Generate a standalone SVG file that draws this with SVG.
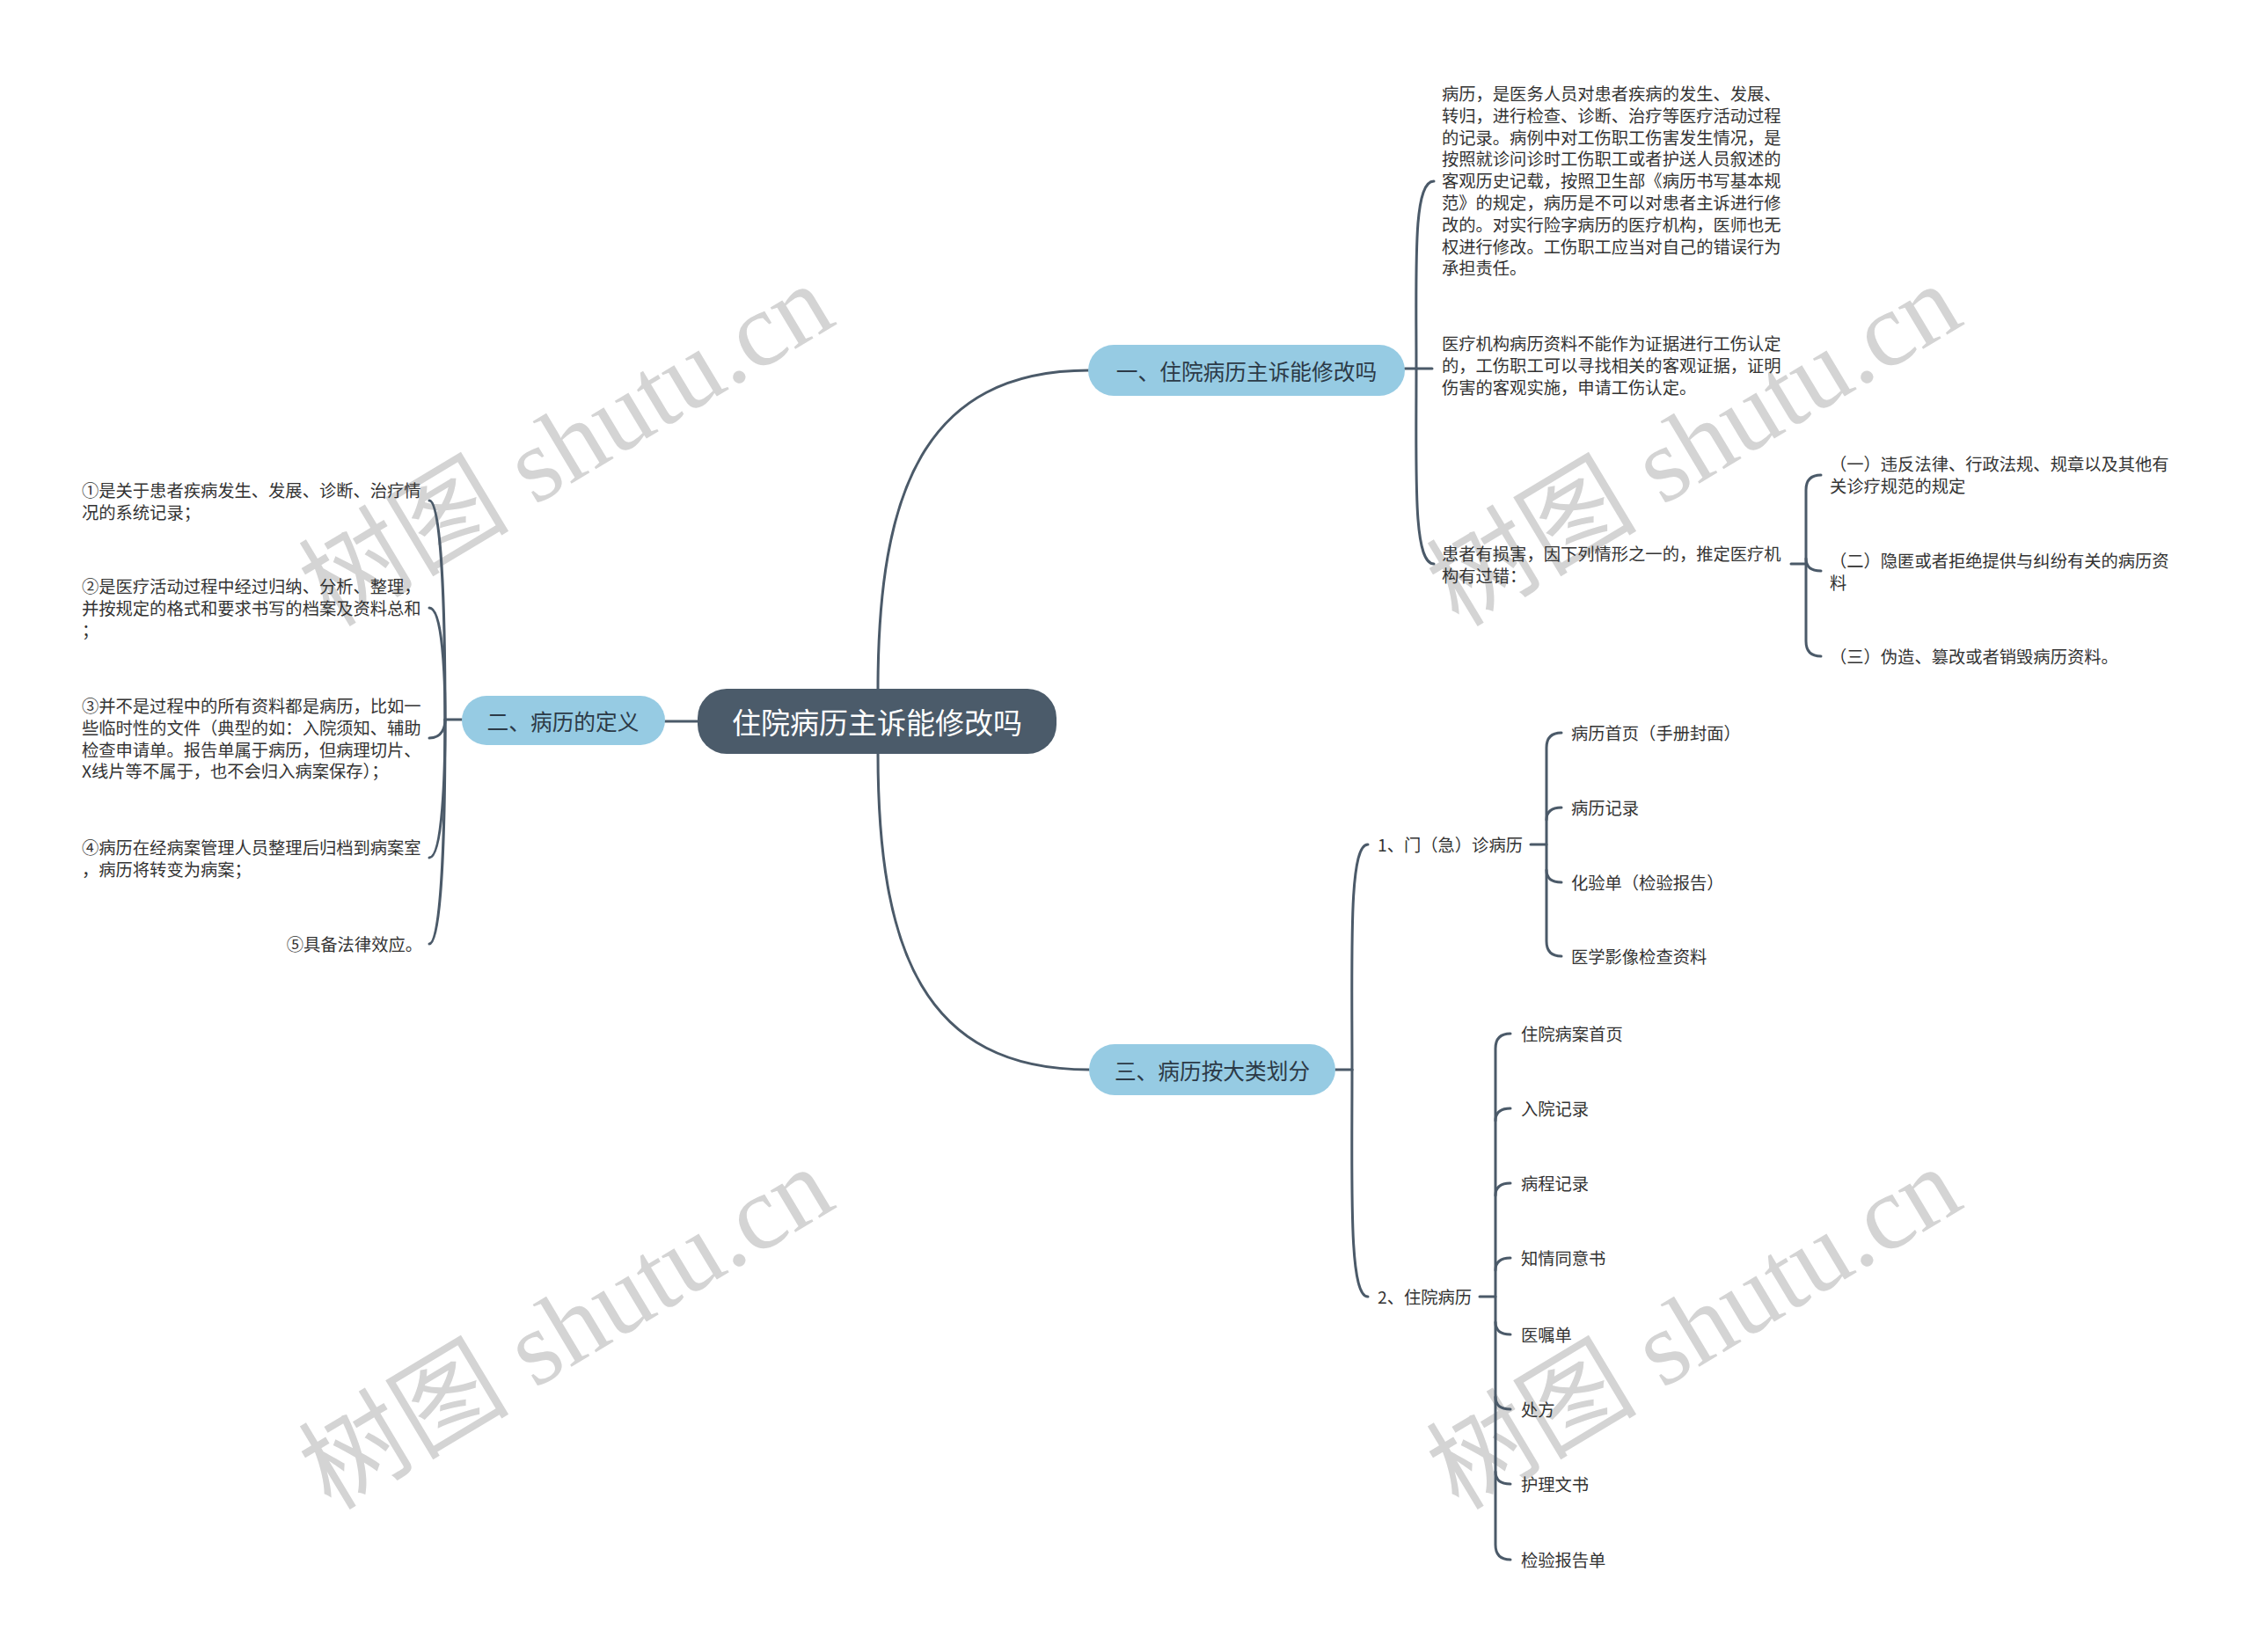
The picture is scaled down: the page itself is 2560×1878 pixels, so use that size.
<svg xmlns="http://www.w3.org/2000/svg" width="2560" height="1878" viewBox="0 0 2560 1878">
<style>
.wm{font-family:"Liberation Serif","Noto Sans CJK SC",serif;font-size:120px;fill:#d4d4d4}
.conn{fill:none;stroke:#4b5a69;stroke-width:3;stroke-linecap:round}
.t{font-family:"Noto Sans CJK SC",sans-serif;font-size:19.3px;fill:#333;dominant-baseline:central}
.rootbox{fill:#4b5b6a}
.roottxt{font-family:"Noto Sans CJK SC",sans-serif;font-size:33px;fill:#fff;dominant-baseline:central;text-anchor:middle}
.bbox{fill:#96cbe3}
.btxt{font-family:"Noto Sans CJK SC",sans-serif;font-size:24.7px;fill:#2c3a47;dominant-baseline:central;text-anchor:middle}
</style>
<rect width="2560" height="1878" fill="#fff"/>
<g id="watermarks">
<text class="wm" x="376" y="714" transform="rotate(-31 376 714)">树图 shutu.cn</text>
<text class="wm" x="1658" y="714" transform="rotate(-31 1658 714)">树图 shutu.cn</text>
<text class="wm" x="376" y="1718" transform="rotate(-31 376 1718)">树图 shutu.cn</text>
<text class="wm" x="1658" y="1718" transform="rotate(-31 1658 1718)">树图 shutu.cn</text>
</g>
<g id="connectors">
<path class="conn" d="M998,784 C998,560 1050,421 1238,421"/>
<path class="conn" d="M998,856 C998,1080 1050,1216 1238,1216"/>
<path class="conn" d="M793,820 L756,820"/>
<path class="conn" d="M1597,419 L1628,419"/>
<path class="conn" d="M1610,419 C1610,300 1606,206 1630,206"/>
<path class="conn" d="M1610,419 C1610,540 1606,641 1630,641"/>
<path class="conn" d="M2036,641 L2053,641"/>
<path class="conn" d="M2070,540 Q2053,540 2053,557 L2053,729 Q2053,746 2070,746"/>
<path class="conn" d="M2053,635 Q2053,649 2070,649"/>
<path class="conn" d="M525,818 L506,818"/>
<path class="conn" d="M506,818 C506,718 503,569 488,569"/>
<path class="conn" d="M506,818 C506,768 503,691 488,691"/>
<path class="conn" d="M506,818 C506,826 503,839 488,839"/>
<path class="conn" d="M506,818 C506,880 503,975 488,975"/>
<path class="conn" d="M506,818 C506,920 503,1073 488,1073"/>
<path class="conn" d="M1518,1216 L1537,1216"/>
<path class="conn" d="M1537,1216 C1537,1080 1533,960 1555,960"/>
<path class="conn" d="M1537,1216 C1537,1350 1533,1474 1555,1474"/>
<path class="conn" d="M1740,960 L1758,960"/>
<path class="conn" d="M1775,833 Q1758,833 1758,850 L1758,1070 Q1758,1087 1775,1087"/>
<path class="conn" d="M1758,932 Q1758,918 1775,918"/>
<path class="conn" d="M1758,989 Q1758,1003 1775,1003"/>
<path class="conn" d="M1682,1474 L1700,1474"/>
<path class="conn" d="M1717,1175 Q1700,1175 1700,1192 L1700,1756 Q1700,1773 1717,1773"/>
<path class="conn" d="M1700,1274 Q1700,1260 1717,1260"/>
<path class="conn" d="M1700,1359 Q1700,1345 1717,1345"/>
<path class="conn" d="M1700,1444 Q1700,1430 1717,1430"/>
<path class="conn" d="M1700,1503 Q1700,1517 1717,1517"/>
<path class="conn" d="M1700,1588 Q1700,1602 1717,1602"/>
<path class="conn" d="M1700,1673 Q1700,1687 1717,1687"/>
</g>
<g id="root">
<rect class="rootbox" x="793" y="783" width="408" height="74" rx="33"/>
<text class="roottxt" x="997" y="820">住院病历主诉能修改吗</text>
</g>
<g id="b1">
<rect class="bbox" x="1237" y="392" width="360" height="58" rx="29"/>
<text class="btxt" x="1417" y="421">一、住院病历主诉能修改吗</text>
</g>
<g id="b2">
<rect class="bbox" x="525" y="791" width="231" height="56" rx="28"/>
<text class="btxt" x="640" y="819">二、病历的定义</text>
</g>
<g id="b3">
<rect class="bbox" x="1238" y="1187" width="280" height="58" rx="29"/>
<text class="btxt" x="1378" y="1216">三、病历按大类划分</text>
</g>
<g id="b1-c1">
<text class="t"><tspan x="1639" y="106">病历，是医务人员对患者疾病的发生、发展、</tspan><tspan x="1639" y="130.8">转归，进行检查、诊断、治疗等医疗活动过程</tspan><tspan x="1639" y="155.6">的记录。病例中对工伤职工伤害发生情况，是</tspan><tspan x="1639" y="180.4">按照就诊问诊时工伤职工或者护送人员叙述的</tspan><tspan x="1639" y="205.2">客观历史记载，按照卫生部《病历书写基本规</tspan><tspan x="1639" y="230">范》的规定，病历是不可以对患者主诉进行修</tspan><tspan x="1639" y="254.8">改的。对实行险字病历的医疗机构，医师也无</tspan><tspan x="1639" y="279.6">权进行修改。工伤职工应当对自己的错误行为</tspan><tspan x="1639" y="304.4">承担责任。</tspan></text>
</g>
<g id="b1-c2">
<text class="t"><tspan x="1639" y="390">医疗机构病历资料不能作为证据进行工伤认定</tspan><tspan x="1639" y="414.8">的，工伤职工可以寻找相关的客观证据，证明</tspan><tspan x="1639" y="439.6">伤害的客观实施，申请工伤认定。</tspan></text>
</g>
<g id="b1-c3">
<text class="t"><tspan x="1639" y="629">患者有损害，因下列情形之一的，推定医疗机</tspan><tspan x="1639" y="653.8">构有过错：</tspan></text>
</g>
<g id="b1-c3-1">
<text class="t"><tspan x="2080" y="527">（一）违反法律、行政法规、规章以及其他有</tspan><tspan x="2080" y="551.8">关诊疗规范的规定</tspan></text>
</g>
<g id="b1-c3-2">
<text class="t"><tspan x="2080" y="637">（二）隐匿或者拒绝提供与纠纷有关的病历资</tspan><tspan x="2080" y="661.8">料</tspan></text>
</g>
<g id="b1-c3-3">
<text class="t" x="2080" y="746">（三）伪造、篡改或者销毁病历资料。</text>
</g>
<g id="b2-c1">
<text class="t"><tspan x="93" y="557">①是关于患者疾病发生、发展、诊断、治疗情</tspan><tspan x="93" y="581.8">况的系统记录；</tspan></text>
</g>
<g id="b2-c2">
<text class="t"><tspan x="93" y="666">②是医疗活动过程中经过归纳、分析、整理，</tspan><tspan x="93" y="690.8">并按规定的格式和要求书写的档案及资料总和</tspan><tspan x="93" y="715.6">；</tspan></text>
</g>
<g id="b2-c3">
<text class="t"><tspan x="93" y="802">③并不是过程中的所有资料都是病历，比如一</tspan><tspan x="93" y="826.8">些临时性的文件（典型的如：入院须知、辅助</tspan><tspan x="93" y="851.6">检查申请单。报告单属于病历，但病理切片、</tspan><tspan x="93" y="876.4">X线片等不属于，也不会归入病案保存）；</tspan></text>
</g>
<g id="b2-c4">
<text class="t"><tspan x="93" y="963">④病历在经病案管理人员整理后归档到病案室</tspan><tspan x="93" y="987.8">，病历将转变为病案；</tspan></text>
</g>
<g id="b2-c5">
<text class="t" x="480" y="1073" text-anchor="end">⑤具备法律效应。</text>
</g>
<g id="b3-c1">
<text class="t" x="1566" y="960">1、门（急）诊病历</text>
</g>
<g id="b3-c1-1"><text class="t" x="1786" y="833">病历首页（手册封面）</text></g>
<g id="b3-c1-2"><text class="t" x="1786" y="918">病历记录</text></g>
<g id="b3-c1-3"><text class="t" x="1786" y="1003">化验单（检验报告）</text></g>
<g id="b3-c1-4"><text class="t" x="1786" y="1087">医学影像检查资料</text></g>
<g id="b3-c2">
<text class="t" x="1566" y="1474">2、住院病历</text>
</g>
<g id="b3-c2-1"><text class="t" x="1729" y="1175">住院病案首页</text></g>
<g id="b3-c2-2"><text class="t" x="1729" y="1260">入院记录</text></g>
<g id="b3-c2-3"><text class="t" x="1729" y="1345">病程记录</text></g>
<g id="b3-c2-4"><text class="t" x="1729" y="1430">知情同意书</text></g>
<g id="b3-c2-5"><text class="t" x="1729" y="1517">医嘱单</text></g>
<g id="b3-c2-6"><text class="t" x="1729" y="1602">处方</text></g>
<g id="b3-c2-7"><text class="t" x="1729" y="1687">护理文书</text></g>
<g id="b3-c2-8"><text class="t" x="1729" y="1773">检验报告单</text></g>
</svg>
